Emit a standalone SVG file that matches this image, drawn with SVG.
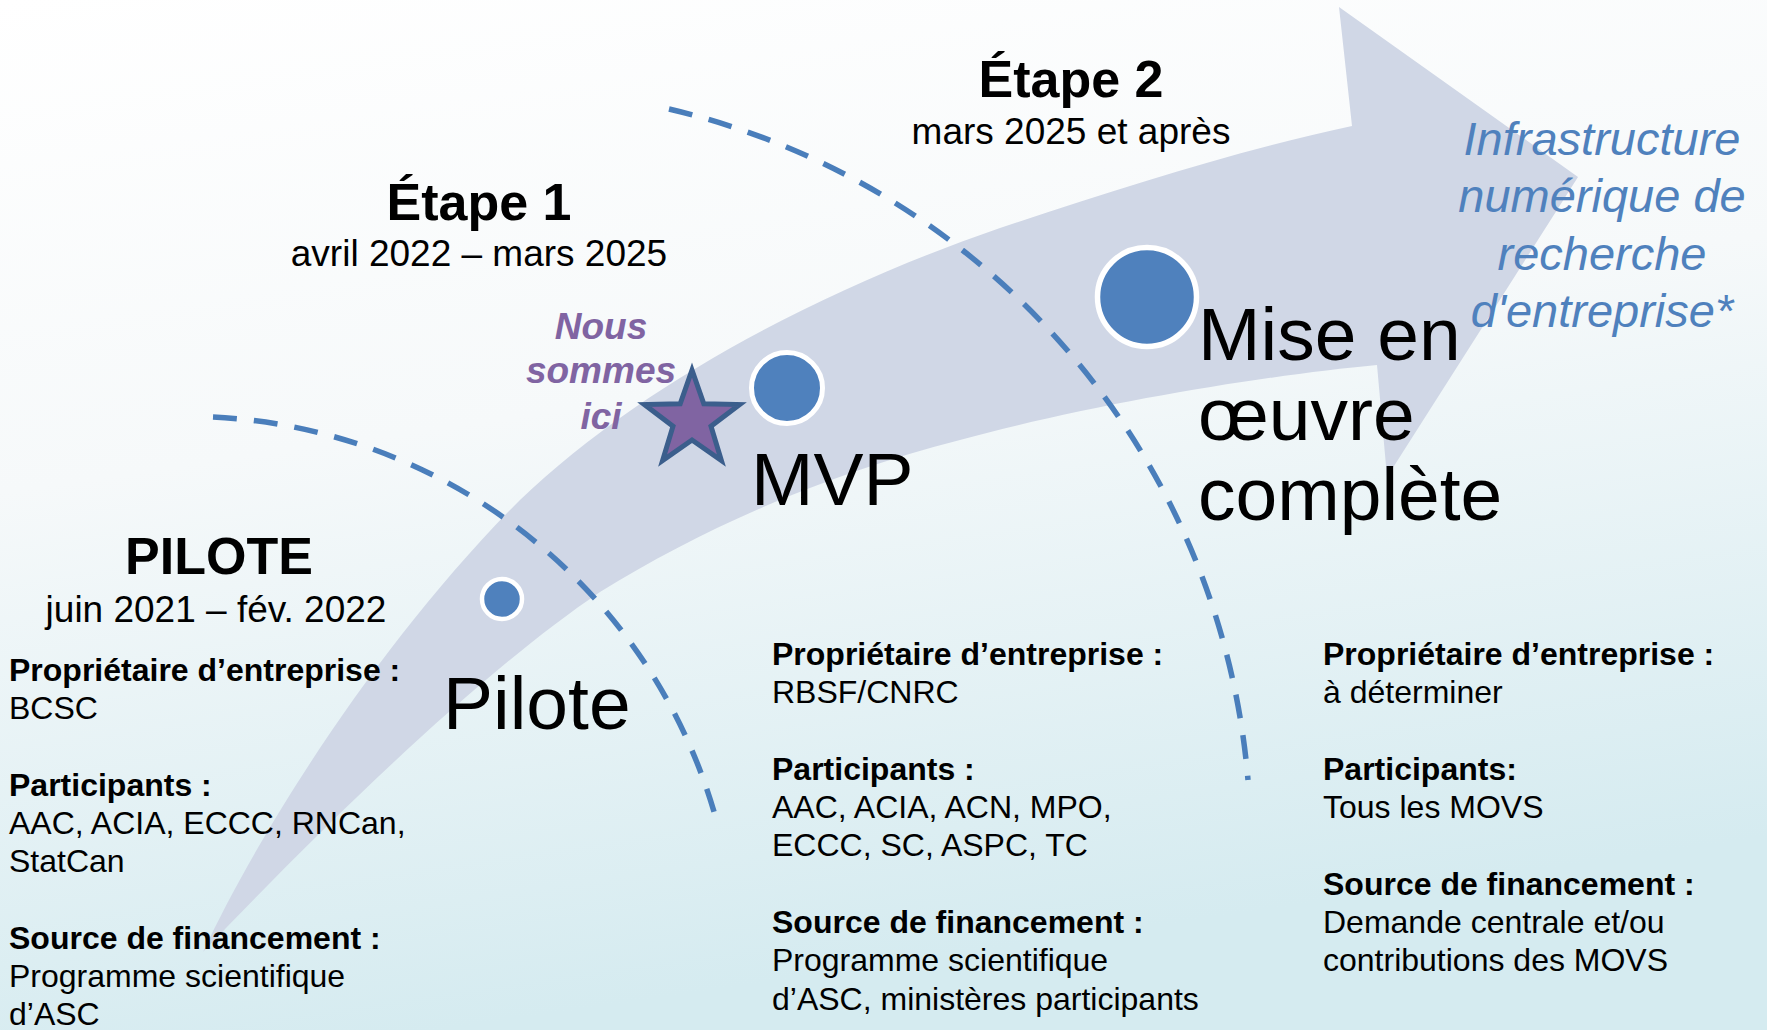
<svg xmlns="http://www.w3.org/2000/svg" width="1767" height="1030" viewBox="0 0 1767 1030">
<defs>
<linearGradient id="bg" x1="0" y1="0" x2="0.25" y2="1">
<stop offset="0" stop-color="#ffffff"/>
<stop offset="0.45" stop-color="#f6f9fa"/>
<stop offset="1" stop-color="#d5ebf0"/>
</linearGradient>
<style>
text{font-family:"Liberation Sans",Arial,Helvetica,sans-serif;fill:#000}
.h{font-size:52px;font-weight:bold;text-anchor:middle}
.d{font-size:37px;text-anchor:middle}
.big{font-size:75px}
.lb{font-size:32px;font-weight:bold}
.lt{font-size:32px}
.ici{font-size:37px;font-weight:bold;font-style:italic;fill:#8064A2;text-anchor:middle}
.infra{font-size:47px;font-style:italic;fill:#4F81BD;text-anchor:middle}
.dash{fill:none;stroke:#4A7EBB;stroke-width:5.5;stroke-dasharray:24 17}
.dot{fill:#4F81BD;stroke:#ffffff}
</style>
</defs>
<rect id="background" x="0" y="0" width="1767" height="1030" fill="url(#bg)"/>
<g id="arrow">
<path d="M203,952 C260,830 380,640 520,500 C640,385 820,290 1000,228 C1120,188 1240,150 1352,126 L1339,7 L1578,177 L1387,477 L1377,365 C1270,375 1100,402 960,440 C820,476 700,530 600,592 C470,680 310,840 203,952 Z" fill="#d0d7e6"/>
</g>
<g id="connectors">
<path class="dash" d="M213,417 A551,551 0 0 1 718,826"/>
<path class="dash" d="M669,109 A754,754 0 0 1 1248,780"/>
</g>
<g id="node-pilote">
<circle class="dot" cx="502" cy="599" r="20" stroke-width="4.5"/>
<text class="big" x="443" y="729">Pilote</text>
</g>
<g id="node-mvp">
<circle class="dot" cx="787" cy="388" r="35.5" stroke-width="5"/>
<text class="big" x="751" y="505">MVP</text>
</g>
<g id="node-mise">
<circle class="dot" cx="1147" cy="297" r="49.5" stroke-width="5.5"/>
<text class="big" x="1198" y="360">Mise en</text>
<text class="big" x="1198" y="440">œuvre</text>
<text class="big" x="1198" y="520">complète</text>
</g>
<g id="node-star">
<polygon points="692,370 703.8,403.8 739.6,404.6 711,426.2 721.4,460.5 692,440 662.6,460.5 673,426.2 644.4,404.6 680.2,403.8" fill="#8064A2" stroke="#3B5E8C" stroke-width="5"/>
<text class="ici" x="601" y="339">Nous</text>
<text class="ici" x="601" y="383">sommes</text>
<text class="ici" x="601" y="429">ici</text>
</g>
<g id="node-infra">
<text class="infra" x="1602" y="155">Infrastructure</text>
<text class="infra" x="1602" y="212">numérique de</text>
<text class="infra" x="1602" y="270">recherche</text>
<text class="infra" x="1602" y="327">d'entreprise*</text>
</g>
<g id="phase-pilote">
<text class="h" x="219" y="574">PILOTE</text>
<text class="d" x="216" y="622">juin 2021 – fév. 2022</text>
<text class="lb" x="9" y="681">Propriétaire d’entreprise :</text>
<text class="lt" x="9" y="719">BCSC</text>
<text class="lb" x="9" y="796">Participants :</text>
<text class="lt" x="9" y="834">AAC, ACIA, ECCC, RNCan,</text>
<text class="lt" x="9" y="872">StatCan</text>
<text class="lb" x="9" y="949">Source de financement :</text>
<text class="lt" x="9" y="987">Programme scientifique</text>
<text class="lt" x="9" y="1025">d’ASC</text>
</g>
<g id="phase-etape1">
<text class="h" x="479" y="220">Étape 1</text>
<text class="d" x="479" y="266">avril 2022 – mars 2025</text>
<text class="lb" x="772" y="665">Propriétaire d’entreprise :</text>
<text class="lt" x="772" y="703">RBSF/CNRC</text>
<text class="lb" x="772" y="780">Participants :</text>
<text class="lt" x="772" y="818">AAC, ACIA, ACN, MPO,</text>
<text class="lt" x="772" y="856">ECCC, SC, ASPC, TC</text>
<text class="lb" x="772" y="933">Source de financement :</text>
<text class="lt" x="772" y="971">Programme scientifique</text>
<text class="lt" x="772" y="1010">d’ASC, ministères participants</text>
</g>
<g id="phase-etape2">
<text class="h" x="1071" y="97">Étape 2</text>
<text class="d" x="1071" y="144">mars 2025 et après</text>
<text class="lb" x="1323" y="665">Propriétaire d’entreprise :</text>
<text class="lt" x="1323" y="703">à déterminer</text>
<text class="lb" x="1323" y="780">Participants:</text>
<text class="lt" x="1323" y="818">Tous les MOVS</text>
<text class="lb" x="1323" y="895">Source de financement :</text>
<text class="lt" x="1323" y="933">Demande centrale et/ou</text>
<text class="lt" x="1323" y="971">contributions des MOVS</text>
</g>
</svg>
